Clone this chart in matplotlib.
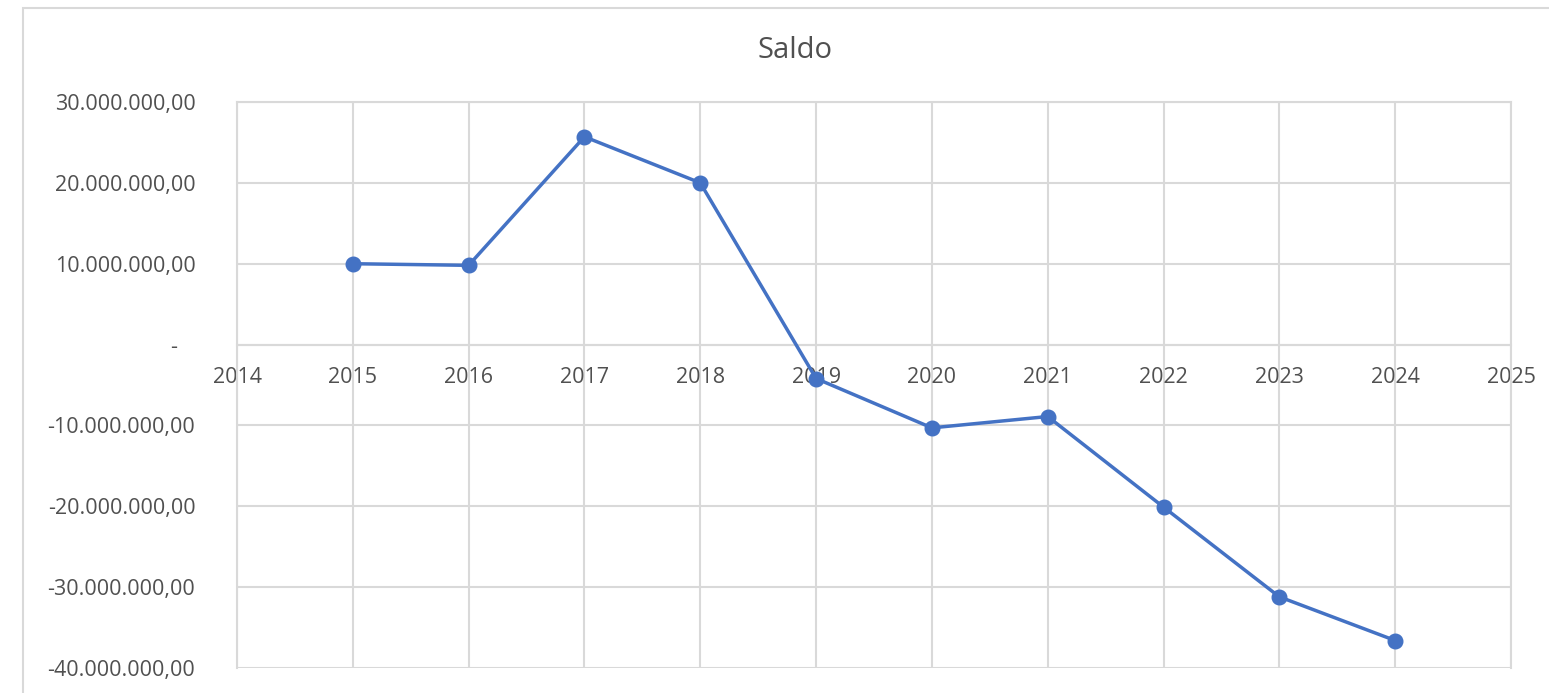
import matplotlib
matplotlib.use("Agg")
import matplotlib.pyplot as plt
from matplotlib.patches import Rectangle
from matplotlib.ticker import FixedLocator, FuncFormatter

years = [2015, 2016, 2017, 2018, 2019, 2020, 2021, 2022, 2023, 2024]
saldo = [10.0e6, 9.8e6, 25.7e6, 20.0e6, -4.2e6, -10.3e6, -8.9e6, -20.1e6, -31.2e6, -36.6e6]
x_ticks = list(range(2014, 2026))
y_ticks = [-40e6, -30e6, -20e6, -10e6, 0, 10e6, 20e6, 30e6]
title = "Saldo"

plt.rcParams['font.family'] = ['Open Sans', 'DejaVu Sans']

W, H = 1549, 693
fig = plt.figure(figsize=(W / 100, H / 100), dpi=100)
fig.patch.set_facecolor('white')

# outer chart border
fig.patches.append(Rectangle((23 / W, -0.05), 1.1, 1 - 8 / H + 0.05,
                             transform=fig.transFigure, fill=False,
                             edgecolor='#D9D9D9', linewidth=1.5))

ax = fig.add_axes([237 / W, 1 - 668 / H, (1511 - 237) / W, (668 - 102) / H])
ax.set_xlim(2014, 2025)
ax.set_ylim(-40e6, 30e6)

grid_c = '#D9D9D9'
ax.xaxis.set_major_locator(FixedLocator(x_ticks))
ax.yaxis.set_major_locator(FixedLocator(y_ticks))
ax.grid(True, color=grid_c, linewidth=1.5)
ax.set_axisbelow(True)
for s in ax.spines.values():
    s.set_color(grid_c)
    s.set_linewidth(1.5)
ax.spines['bottom'].set_position(('data', 0))


def yfmt(v, pos):
    if abs(v) < 1:
        return "-   "
    s = f"{abs(v):,.2f}".replace(",", "X").replace(".", ",").replace("X", ".")
    return ("-" if v < 0 else "") + s


ax.yaxis.set_major_formatter(FuncFormatter(yfmt))
ax.tick_params(axis='both', length=0, colors='#505050', labelsize=15.5)
ax.tick_params(axis='y', pad=30)
ax.tick_params(axis='x', pad=16)

ax.plot(years, saldo, color='#4472C4', linewidth=2.5, marker='o',
        markersize=10.5, markerfacecolor='#4472C4', markeredgecolor='#4472C4',
        zorder=3, clip_on=False)

fig.text(795 / W, 1 - 51 / H, title, ha='center', va='center',
         fontsize=21, color='#505050')

fig.savefig('out.png', dpi=100)
